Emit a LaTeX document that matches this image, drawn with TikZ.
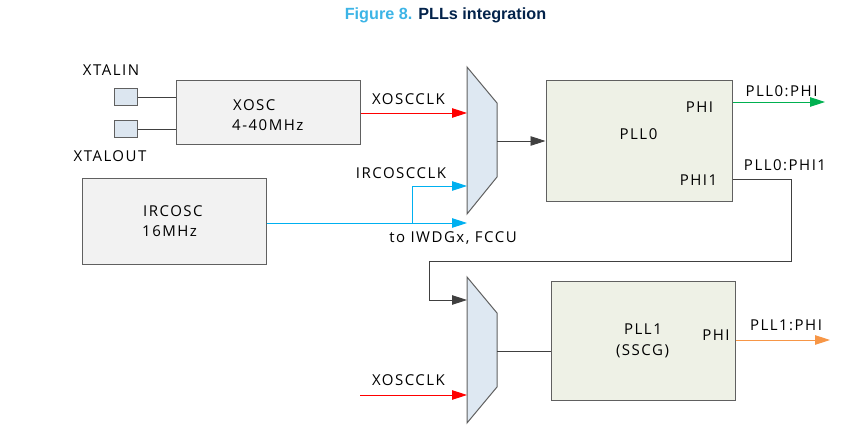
\documentclass[tikz,border=0pt]{standalone}
\usepackage{fontspec}
\setmainfont{Open Sans}
\newfontfamily\dfont[LetterSpace=10]{Open Sans}
\newfontfamily\titlefont{Liberation Sans}
\usetikzlibrary{arrows.meta}
\definecolor{bordergray}{HTML}{606060}
\definecolor{wiregray}{HTML}{404040}
\definecolor{oscfill}{HTML}{F2F2F2}
\definecolor{pllfill}{HTML}{EEF1E6}
\definecolor{muxfill}{HTML}{DEE8F2}
\definecolor{pinfill}{HTML}{DCE6F0}
\definecolor{sigred}{HTML}{FF0000}
\definecolor{sigblue}{HTML}{00B0F0}
\definecolor{siggreen}{HTML}{00B050}
\definecolor{sigorange}{HTML}{F79646}
\definecolor{titleblue}{HTML}{3CB4E6}
\definecolor{titlenavy}{HTML}{03234B}
\begin{document}
\begin{tikzpicture}[x=1pt,y=-1pt,
  box/.style={draw=bordergray, line width=1pt, inner sep=0pt},
  lbl/.style={font=\dfont\fontsize{15}{17}\selectfont, inner sep=0pt, text=black, anchor=base},
  lblw/.style={lbl, anchor=base west},
  wire/.style={draw=wiregray, line width=0.9pt},
  arr/.style={-{Triangle[length=15pt,width=9.5pt]}, line width=0.9pt},
]
\useasboundingbox (0,0) rectangle (854,435);
% title
\node[inner sep=0pt, anchor=base, font=\titlefont\bfseries\fontsize{16.2}{18}\selectfont] (title) at (445.5,20) {\textcolor{titleblue}{Figure 8.} \textcolor{titlenavy}{PLLs integration}};

% pins
\node[box, fill=pinfill, minimum width=23pt, minimum height=17pt] (pinin) at (125.5,97) {};
\node[box, fill=pinfill, minimum width=23pt, minimum height=17pt] (pinout) at (125.5,129) {};
\node[lbl] (txin) at (111,76) {XTALIN};
\node[lbl] (txout) at (110,162) {XTALOUT};

% XOSC
\node[box, fill=oscfill, minimum width=184pt, minimum height=64pt] (xosc) at (268,113) {};
\node[lblw] (xosct1) at (233,111) {XOSC};
\node[lblw] (xosct2) at (232,131) {4-40MHz};
\draw[wire] (pinin.east) -- (pinin.east -| xosc.west);
\draw[wire] (pinout.east) -- (pinout.east -| xosc.west);

% IRCOSC
\node[box, fill=oscfill, minimum width=184pt, minimum height=86pt] (irc) at (174,222) {};
\node[lblw] (irct1) at (143,217) {IRCOSC};
\node[lblw] (irct2) at (142,237) {16MHz};

% mux 1
\draw[box, fill=muxfill] (467,67) -- (497,103) -- (497,177) -- (467,214) -- cycle;
\coordinate (m1out) at (497,141);
\coordinate (m1inA) at (467,113);
\coordinate (m1inB) at (467,186);
\coordinate (m1inC) at (467,223);

% PLL0
\node[box, fill=pllfill, minimum width=186pt, minimum height=121pt] (pll0) at (639,141.5) {};
\node[lbl] (pll0t) at (638.5,140) {PLL0};
\node[lbl] (phi0) at (699.5,113) {PHI};
\node[lbl] (phi01) at (698.5,186) {PHI1};

% mux 2
\draw[box, fill=muxfill] (467,277) -- (497,313) -- (497,387) -- (467,423) -- cycle;
\coordinate (m2out) at (497,351);
\coordinate (m2inA) at (467,300);
\coordinate (m2inB) at (467,395);

% PLL1
\node[box, fill=pllfill, minimum width=184pt, minimum height=119pt] (pll1) at (643,341.5) {};
\node[lbl] (pll1t) at (643,335) {PLL1};
\node[lbl] (pll1s) at (642.5,356) {(SSCG)};
\node[lbl] (phi1) at (716,341) {PHI};

% signals
\draw[arr, sigred] (xosc.east |- m1inA) -- (m1inA);
\node[lbl] (xcl) at (408.5,105) {XOSCCLK};
\draw[arr, sigblue] (irc.east |- m1inC) -- (m1inC);
\coordinate (br) at (412,223);
\draw[arr, sigblue] (br) |- (m1inB);
\node[lbl] (irclbl) at (401,179) {IRCOSCCLK};
\node[lbl] (iwdg) at (453,243) {to IWDGx, FCCU};

\draw[arr, wiregray] (m1out) -- (m1out -| pll0.west);

\coordinate (g) at (825,102);
\draw[arr, siggreen] (pll0.east |- g) -- (g);
\node[lbl] (p0phi) at (781.5,97) {PLL0:PHI};

\coordinate (c1) at (791,179);
\coordinate (c2) at (791,261);
\coordinate (c3) at (429,261);
\draw[arr, wiregray] (pll0.east |- c1) -- (c1) -- (c2) -- (c3) |- (m2inA);
\node[lbl] (p0phi1) at (785,171) {PLL0:PHI1};

\draw[wire] (m2out) -- (m2out -| pll1.west);

\coordinate (o) at (830,340);
\draw[arr, sigorange] (pll1.east |- o) -- (o);
\node[lbl] (p1phi) at (786,331) {PLL1:PHI};

\coordinate (r2) at (360,395);
\draw[arr, sigred] (r2) -- (m2inB);
\node[lbl] (xcl2) at (408.5,385) {XOSCCLK};
\end{tikzpicture}
\end{document}
